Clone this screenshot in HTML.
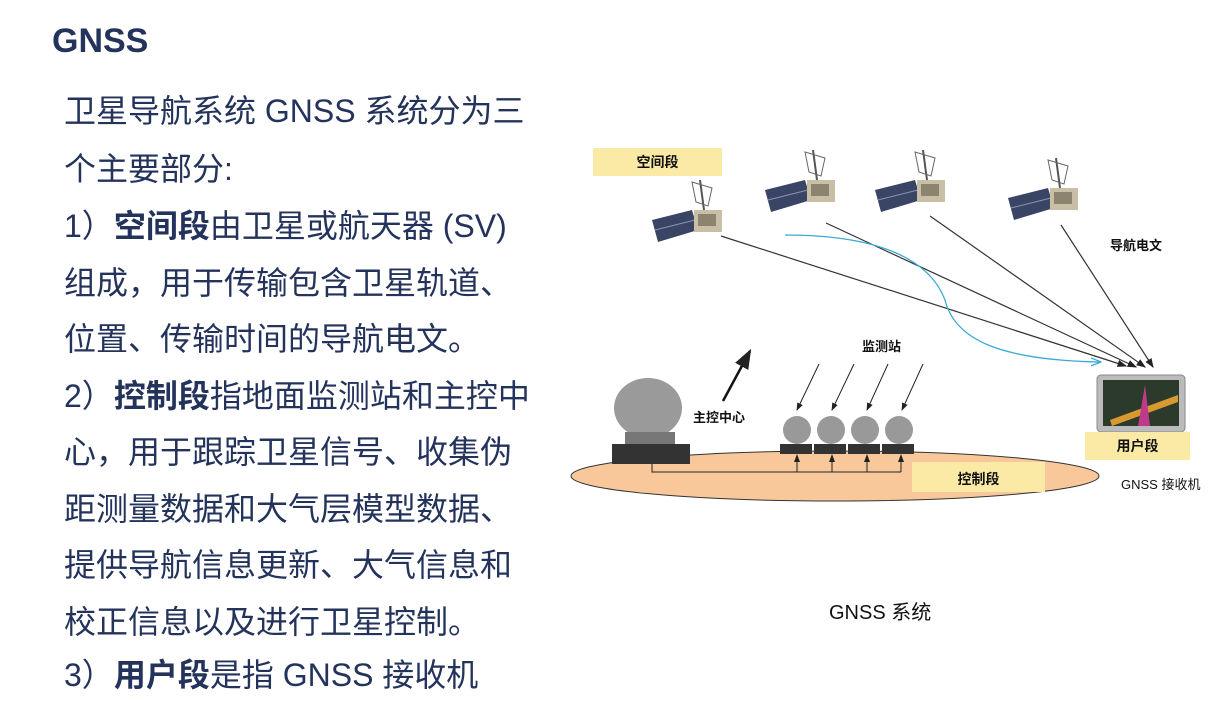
<!DOCTYPE html>
<html><head><meta charset="utf-8"><style>
body{margin:0;width:1224px;height:706px;background:#fff;position:relative;overflow:hidden;font-family:"Liberation Sans","Noto Sans CJK SC",sans-serif;}
.t{position:absolute;left:64px;font-size:32px;line-height:34px;color:#24335c;white-space:nowrap;}
.t b{font-weight:700}
.h{position:absolute;left:52px;top:22px;font-size:34px;font-weight:700;color:#24335c;}
.lbl{position:absolute;font-size:13px;color:#111;font-weight:700;}
.box{position:absolute;background:#fbeaa6;font-size:14px;font-weight:700;color:#111;text-align:center;}
</style></head><body>
<div class="h">GNSS</div>
<div class="t" style="top:94px">卫星导航系统 GNSS 系统分为三</div>
<div class="t" style="top:152px">个主要部分:</div>
<div class="t" style="top:209px">1）<b>空间段</b>由卫星或航天器 (SV)</div>
<div class="t" style="top:266px">组成，用于传输包含卫星轨道、</div>
<div class="t" style="top:322px">位置、传输时间的导航电文。</div>
<div class="t" style="top:379px">2）<b>控制段</b>指地面监测站和主控中</div>
<div class="t" style="top:435px">心，用于跟踪卫星信号、收集伪</div>
<div class="t" style="top:492px">距测量数据和大气层模型数据、</div>
<div class="t" style="top:548px">提供导航信息更新、大气信息和</div>
<div class="t" style="top:605px">校正信息以及进行卫星控制。</div>
<div class="t" style="top:658px">3）<b>用户段</b>是指 GNSS 接收机</div>

<svg width="1224" height="706" style="position:absolute;left:0;top:0">
<defs>
<marker id="a" markerWidth="8" markerHeight="8" refX="7" refY="4" orient="auto"><path d="M0,1 L8,4 L0,7 Z" fill="#222"/></marker>
<marker id="b" markerWidth="8" markerHeight="8" refX="7" refY="4" orient="auto"><path d="M0,1 L8,4 L0,7" fill="none" stroke="#3aa9d6"/></marker>
<g id="sat">
<line x1="48" y1="0" x2="52" y2="30" stroke="#555" stroke-width="2"/>
<path d="M40,2 L60,8 L56,26 L44,22 Z" fill="none" stroke="#666"/>
<path d="M0,40 L40,30 L46,50 L6,62 Z" fill="#3a4566"/>
<path d="M3,50 L43,40" stroke="#8a95b0"/>
<rect x="42" y="30" width="28" height="22" fill="#c9bfa7"/>
<rect x="46" y="34" width="18" height="12" fill="#8d8470"/>
</g>
</defs>
<use href="#sat" x="652" y="180"/>
<use href="#sat" x="765" y="150"/>
<use href="#sat" x="875" y="150"/>
<use href="#sat" x="1008" y="158"/>
<line x1="721" y1="236" x2="1126" y2="366" stroke="#333" stroke-width="1.2" marker-end="url(#a)"/>
<line x1="826" y1="223" x2="1136" y2="367" stroke="#333" stroke-width="1.2" marker-end="url(#a)"/>
<line x1="930" y1="216" x2="1145" y2="367" stroke="#333" stroke-width="1.2" marker-end="url(#a)"/>
<line x1="1061" y1="225" x2="1153" y2="367" stroke="#333" stroke-width="1.2" marker-end="url(#a)"/>
<path d="M785,235 C880,235 930,260 945,300 C955,340 1000,360 1100,362" fill="none" stroke="#3aa9d6" stroke-width="1.3" marker-end="url(#b)"/>
<ellipse cx="835" cy="476" rx="264" ry="25" fill="#f8c89a" stroke="#333" stroke-width="1"/>
<rect x="912" y="462" width="133" height="30" fill="#fbeaa6"/>
<line x1="723" y1="401" x2="750" y2="351" stroke="#111" stroke-width="2.5" marker-end="url(#a)"/>
<g stroke="#222" stroke-width="1">
<line x1="819" y1="364" x2="797" y2="410" marker-end="url(#a)"/>
<line x1="854" y1="364" x2="832" y2="410" marker-end="url(#a)"/>
<line x1="888" y1="364" x2="867" y2="410" marker-end="url(#a)"/>
<line x1="923" y1="364" x2="902" y2="410" marker-end="url(#a)"/>
<polyline points="652,455 652,472 901,472" fill="none"/>
<line x1="797" y1="472" x2="797" y2="455" marker-end="url(#a)"/>
<line x1="832" y1="472" x2="832" y2="455" marker-end="url(#a)"/>
<line x1="867" y1="472" x2="867" y2="455" marker-end="url(#a)"/>
<line x1="901" y1="472" x2="901" y2="455" marker-end="url(#a)"/>
</g>
<ellipse cx="648" cy="408" rx="34" ry="30" fill="#9a9a9a"/>
<rect x="625" y="432" width="50" height="14" fill="#777"/>
<rect x="612" y="444" width="78" height="20" fill="#333"/>
<g fill="#999">
<circle cx="797" cy="430" r="14"/><circle cx="831" cy="430" r="14"/><circle cx="865" cy="430" r="14"/><circle cx="899" cy="430" r="14"/>
</g>
<g fill="#333">
<rect x="780" y="444" width="32" height="10"/><rect x="814" y="444" width="32" height="10"/><rect x="848" y="444" width="32" height="10"/><rect x="882" y="444" width="32" height="10"/>
</g>
<rect x="1097" y="375" width="88" height="57" rx="4" fill="#bbb" stroke="#888"/>
<rect x="1103" y="380" width="76" height="46" fill="#2c3a2c"/>
<path d="M1110,420 L1178,395 L1178,402 L1112,426 Z" fill="#d89a30"/>
<path d="M1138,426 L1145,385 L1150,426 Z" fill="#c03a8a"/>
</svg>
<div class="box" style="left:593px;top:148px;width:129px;height:28px;line-height:28px">空间段</div>
<div class="box" style="left:1085px;top:432px;width:105px;height:28px;line-height:28px">用户段</div>
<div class="lbl" style="left:912px;top:469px;width:133px;text-align:center;font-size:14px">控制段</div>
<div class="lbl" style="left:1110px;top:235px">导航电文</div>
<div class="lbl" style="left:862px;top:336px">监测站</div>
<div class="lbl" style="left:693px;top:407px">主控中心</div>
<div class="lbl" style="left:1121px;top:474px;font-weight:normal">GNSS 接收机</div>
<div style="position:absolute;left:829px;top:596px;font-size:20px;color:#111">GNSS 系统</div>
</body></html>
